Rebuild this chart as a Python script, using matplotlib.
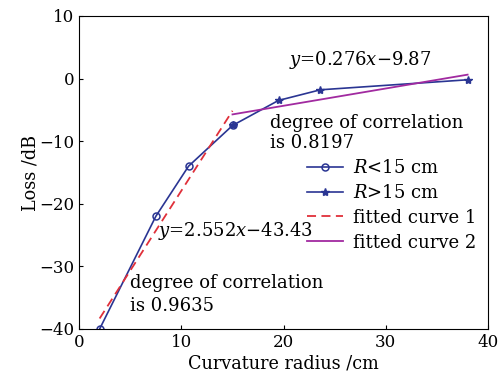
import matplotlib
matplotlib.use("Agg")
import matplotlib.pyplot as plt
import numpy as np

plt.rcParams["font.family"] = "DejaVu Serif"
plt.rcParams["mathtext.fontset"] = "dejavuserif"

# measured points
r_small = [2, 7.5, 10.7, 15]
loss_small = [-40, -22, -14, -7.5]
r_large = [15, 19.5, 23.6, 38]
loss_large = [-7.5, -3.5, -1.8, -0.2]

# linear fits
fit1_k, fit1_b = 2.552, -43.43
fit1_range = [2, 15]
fit2_k, fit2_b = 0.276, -9.87
fit2_range = [15, 38]

BLUE = "#2a3593"
RED = "#e0303a"
PURPLE = "#a12aa0"

fig = plt.figure(figsize=(4.98, 3.79), dpi=100)
ax = fig.add_axes([0.159, 0.132, 0.821, 0.826])

ax.plot(r_small, loss_small, "-o", color=BLUE, lw=1.2, ms=5,
        mfc="none", mew=1.1, label="$R$<15 cm")
ax.plot(r_large, loss_large, "-*", color=BLUE, lw=1.2, ms=6,
        label="$R$>15 cm")
x1 = np.array(fit1_range)
ax.plot(x1, fit1_k * x1 + fit1_b, "--", color=RED, lw=1.3,
        dashes=(5, 3), label="fitted curve 1")
x2 = np.array(fit2_range)
ax.plot(x2, fit2_k * x2 + fit2_b, "-", color=PURPLE, lw=1.3,
        label="fitted curve 2")

ax.set_xlim(0, 40)
ax.set_ylim(-40, 10)
ax.set_xticks([0, 10, 20, 30, 40])
ax.set_yticks([-40, -30, -20, -10, 0, 10])
ax.set_yticklabels(["\u221240", "\u221230", "\u221220", "\u221210", "0", "10"])
ax.tick_params(direction="in", labelsize=12, length=3)
ax.set_xlabel("Curvature radius /cm", fontsize=12.7, labelpad=3)
ax.set_ylabel("Loss /dB", fontsize=12.7, labelpad=0)

fs = 13
ax.text(20.5, 2.2, "$y$=0.276$x$\u22129.87", fontsize=fs)
ax.text(18.7, -7.9, "degree of correlation", fontsize=fs)
ax.text(18.7, -11.1, "is 0.8197", fontsize=fs)
ax.text(7.75, -25.1, "$y$=2.552$x$\u221243.43", fontsize=fs)
ax.text(5.0, -33.45, "degree of correlation", fontsize=fs)
ax.text(5.0, -37.1, "is 0.9635", fontsize=fs)

ax.legend(loc="upper left", bbox_to_anchor=(307 / 498, 1 - 159 / 379),
          bbox_transform=fig.transFigure, frameon=False,
          fontsize=fs, handlelength=2.0, labelspacing=0.38,
          handletextpad=0.55, borderpad=0, borderaxespad=0)

fig.savefig("out.png", dpi=100)
